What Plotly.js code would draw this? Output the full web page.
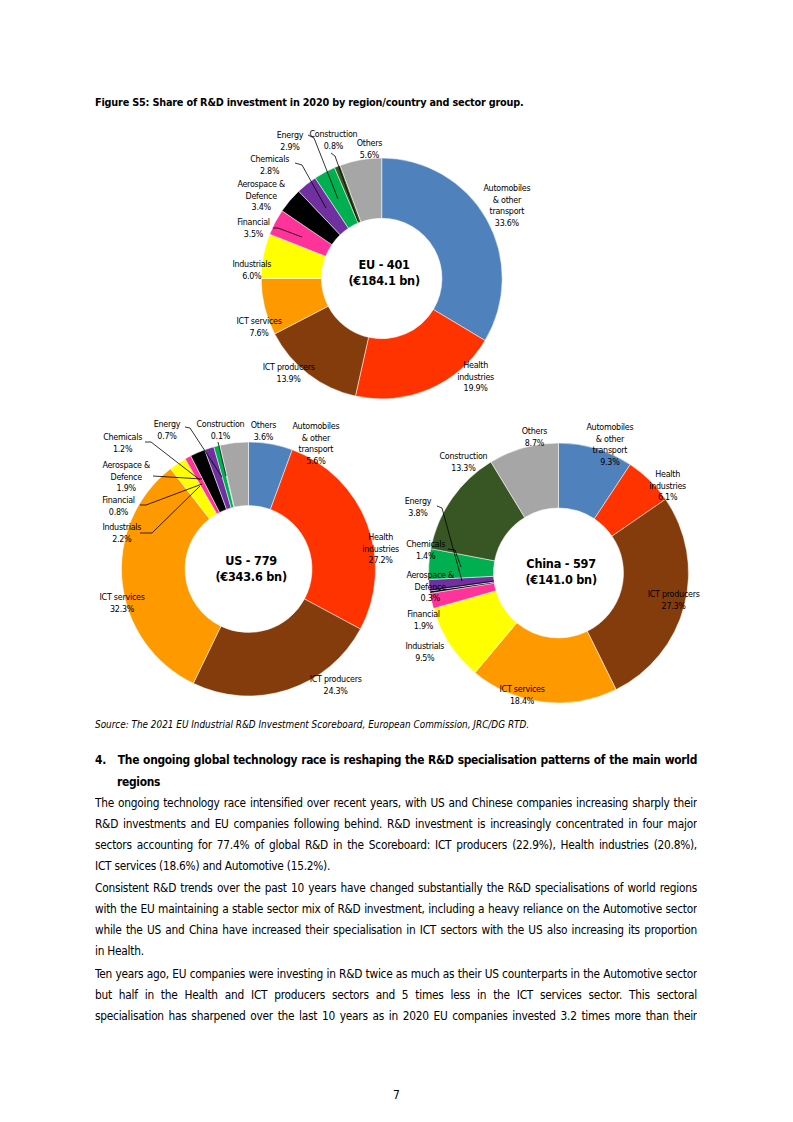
<!DOCTYPE html>
<html>
<head>
<meta charset="utf-8">
<script src="https://cdn.plot.ly/plotly-3.0.1.min.js"></script>
<style>
  html, body { margin:0; padding:0; background:#fff; }
  #page { position:relative; width:793px; height:1122px; overflow:hidden;
          font-family:"Liberation Sans Narrow","DejaVu Sans Condensed","Liberation Sans",sans-serif; color:#000; }
  #chart { position:absolute; left:0; top:0; width:793px; height:1122px; }
  #chart text { letter-spacing:-0.25px; }
  .t { position:absolute; white-space:nowrap; }
  .body { position:absolute; left:95px; width:602px; font-size:11.8px; letter-spacing:-0.25px; }
  .ln { height:21px; line-height:21px; text-align:justify; text-align-last:justify; overflow:hidden; }
  .ln.last { text-align-last:left; }
</style>
</head>
<body>
<div id="page">
  <div id="chart"></div>
  <div class="t" style="left:95px; top:96px; font-size:10.8px; font-weight:bold; letter-spacing:-0.2px;">Figure S5: Share of R&amp;D investment in 2020 by region/country and sector group.</div>
  <div class="t" style="left:95px; top:719px; font-size:9.9px; font-style:italic;">Source: The 2021 EU Industrial R&amp;D Investment Scoreboard, European Commission, JRC/DG RTD.</div>
  <div class="body" style="top:749px; font-weight:bold; font-size:11.9px; letter-spacing:-0.3px;">
    <div class="ln" style="height:22px; line-height:22px;">4.&nbsp;&nbsp; The ongoing global technology race is reshaping the R&amp;D specialisation patterns of the main world</div>
    <div class="ln last" style="height:22px; line-height:22px; padding-left:22px;">regions</div>
  </div>
  <div class="body" style="top:793px;">
    <div class="ln">The ongoing technology race intensified over recent years, with US and Chinese companies increasing sharply their</div>
    <div class="ln">R&amp;D investments and EU companies following behind. R&amp;D investment is increasingly concentrated in four major</div>
    <div class="ln">sectors accounting for 77.4% of global R&amp;D in the Scoreboard: ICT producers (22.9%), Health industries (20.8%),</div>
    <div class="ln last">ICT services (18.6%) and Automotive (15.2%).</div>
  </div>
  <div class="body" style="top:878px;">
    <div class="ln">Consistent R&amp;D trends over the past 10 years have changed substantially the R&amp;D specialisations of world regions</div>
    <div class="ln">with the EU maintaining a stable sector mix of R&amp;D investment, including a heavy reliance on the Automotive sector</div>
    <div class="ln">while the US and China have increased their specialisation in ICT sectors with the US also increasing its proportion</div>
    <div class="ln last">in Health.</div>
  </div>
  <div class="body" style="top:964px;">
    <div class="ln">Ten years ago, EU companies were investing in R&amp;D twice as much as their US counterparts in the Automotive sector</div>
    <div class="ln">but half in the Health and ICT producers sectors and 5 times less in the ICT services sector. This sectoral</div>
    <div class="ln">specialisation has sharpened over the last 10 years as in 2020 EU companies invested 3.2 times more than their</div>
  </div>
  <div class="t" style="left:393px; top:1088px; font-size:12px;">7</div>
</div>
<script>
// ---- data ----
const sectors = ['Automobiles & other transport','Health industries','ICT producers','ICT services','Industrials','Financial','Aerospace & Defence','Chemicals','Energy','Construction','Others'];
const sectorLabelLines = ['Automobiles<br>& other<br>transport','Health<br>industries','ICT producers','ICT services','Industrials','Financial','Aerospace &<br>Defence','Chemicals','Energy','Construction','Others'];
const sectorColors = ['#4F81BD','#FF3300','#843C0C','#FF9900','#FFFF00','#FF3399','#000000','#7030A0','#00B050','#375623','#A6A6A6'];
const euValues    = [33.6, 19.9, 13.9, 7.6, 6.0, 3.5, 3.4, 2.8, 2.9, 0.8, 5.6];
const usValues    = [5.6, 27.2, 24.3, 32.3, 2.2, 0.8, 1.9, 1.2, 0.7, 0.1, 3.6];
const chinaValues = [9.3, 6.1, 27.3, 18.4, 9.5, 1.9, 0.3, 1.4, 3.8, 13.3, 8.7];
const centerTitles = ['EU - 401<br>(€184.1 bn)', 'US - 779<br>(€343.6 bn)', 'China - 597<br>(€141.0 bn)'];

// ---- layout helpers (pixel -> paper) ----
const W = 793, H = 1122;
const px = x => x / W;
const py = y => 1 - y / H;
const FONT = '"Liberation Sans Narrow","DejaVu Sans Condensed","Liberation Sans",sans-serif';

const charts = [
  { values: euValues, cx: 381.7, cy: 278.5, r: 120.5, tcy: 273,
    labelPos: [[507,205],[475,376.5],[288,373],[259,327],[252,270],[253,228.5],[261,195],[269,164.5],[290,140.5],[333,140],[369,149]],
    leaders: [[[308,135],[314,138],[338,199]], [[331,153],[335,156],[358,221]], [[295,163],[302,165],[326,208]], [[273,228],[278,228],[302,237]]] },
  { values: usValues, cx: 248.5, cy: 569, r: 127, tcy: 568,
    labelPos: [[316,443.5],[380,548.5],[335,684.5],[122,603],[122,533],[118,505.5],[126,476.5],[122,442.5],[167,430],[221,430],[263,431.5]],
    leaders: [[[185,427],[190,428],[222,477]], [[218,442],[226,476]], [[145,442],[151,442],[200,480]], [[153,476],[202,479]], [[140,505],[146,505],[202,484]], [[140,533],[152,533],[200,486]]] },
  { values: chinaValues, cx: 558.5, cy: 573, r: 130, tcy: 571,
    labelPos: [[610,444],[667,485.5],[673,600],[522,694.5],[425,652],[423,620],[430,586],[425,549.5],[418,506.5],[463,462],[534,437.5]],
    leaders: [[[437,506],[442,508],[462,581]], [[448,549],[455,550],[461,567]], [[430,590],[494,581]]] }
];

const traces = [], annotations = [], shapes = [];
charts.forEach((c, i) => {
  traces.push({
    type: 'pie', labels: sectors, values: c.values, sort: false, direction: 'clockwise', rotation: 0,
    hole: 0.5, textinfo: 'none', hoverinfo: 'label+percent',
    marker: { colors: sectorColors, line: { color: 'rgba(255,255,255,0.85)', width: 0.6 } },
    domain: { x: [px(c.cx - c.r), px(c.cx + c.r)], y: [py(c.cy + c.r), py(c.cy - c.r)] },
    showlegend: false
  });
  annotations.push({
    xref: 'paper', yref: 'paper', x: px(c.cx + 2), y: py(c.tcy), showarrow: false,
    xanchor: 'center', yanchor: 'middle', align: 'center',
    text: '<b>' + centerTitles[i] + '</b>', font: { family: FONT, size: 12.6, color: '#000' }
  });
  c.values.forEach((v, k) => {
    const [lx, ly] = c.labelPos[k];
    annotations.push({
      xref: 'paper', yref: 'paper', x: px(lx), y: py(ly), showarrow: false,
      xanchor: 'center', yanchor: 'middle', align: 'center',
      text: sectorLabelLines[k] + '<br>' + v.toFixed(1) + '%',
      font: { family: FONT, size: 8.9, color: '#000' }
    });
  });
  c.leaders.forEach(pts => {
    shapes.push({
      type: 'path', xref: 'paper', yref: 'paper',
      path: pts.map((p, j) => (j ? 'L' : 'M') + px(p[0]) + ',' + py(p[1])).join(' '),
      line: { color: '#000', width: 0.8 }
    });
  });
});

Plotly.newPlot('chart', traces, {
  width: W, height: H, margin: { l: 0, r: 0, t: 0, b: 0 },
  paper_bgcolor: 'rgba(0,0,0,0)', plot_bgcolor: 'rgba(0,0,0,0)',
  annotations: annotations, shapes: shapes, showlegend: false
}, { staticPlot: true, displayModeBar: false });
</script>
</body>
</html>
